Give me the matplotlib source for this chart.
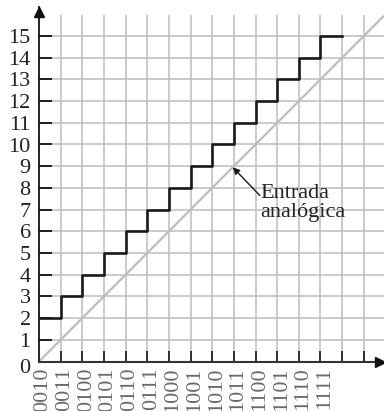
import matplotlib.pyplot as plt
from matplotlib.transforms import ScaledTranslation

plt.rcParams["font.family"] = ["Liberation Serif", "DejaVu Serif"]

# digital codes on the x axis and the quantised output levels
codes = ["0010", "0011", "0100", "0101", "0110", "0111", "1000",
         "1001", "1010", "1011", "1100", "1101", "1110", "1111"]
levels = [2, 3, 4, 5, 6, 7, 8, 9, 10, 11, 12, 13, 14, 15]
y_ticks = list(range(16))
x_grid = list(range(1, 16))
y_grid = list(range(1, 16))
analog_end = 15.9
arrow_point = 8.95

GRID = "#bdbdbd"

fig = plt.figure(figsize=(3.84, 4.11), dpi=100)
ax = fig.add_axes([39 / 384, 49.5 / 411, 345 / 384, 354.5 / 411])
xmax = 345 / 21.65
ymax = 354.5 / 21.7
ax.set_xlim(0, xmax)
ax.set_ylim(0, ymax)

# grid
ax.vlines(x_grid, 0, 15.95, color=GRID, lw=1.1, zorder=1)
ax.hlines(y_grid, 0, xmax, color=GRID, lw=1.1, zorder=1)

# analog input (diagonal)
ax.plot([0, analog_end], [0, analog_end], color="#bdbdbd", lw=1.6, zorder=2)

# staircase output
xs = list(range(len(levels))) + [len(levels)]
ys = levels + [levels[-1]]
ax.step(xs, ys, where="post", color="#1a1a1a", lw=1.9, zorder=3)

# axes
for s in ["top", "right"]:
    ax.spines[s].set_visible(False)
ax.spines["left"].set_color("#111111")
ax.spines["left"].set_linewidth(1.3)
ax.spines["bottom"].set_color("#333333")
ax.spines["bottom"].set_linewidth(1.5)
ax.plot(0, ymax - 0.25, marker="^", ms=7, color="#111111", clip_on=False, zorder=5)
ax.plot(xmax - 0.2, 0, marker=">", ms=7, color="#111111", clip_on=False, zorder=5)

ax.set_yticks(y_ticks)
ax.set_yticklabels([str(v) for v in y_ticks])
ax.tick_params(axis="y", direction="in", length=9.5, width=1.3, color="#111111",
               pad=6, labelsize=16, labelcolor="#222222")
# the "0" sits a little below the axis in the original
zero_lbl = ax.get_yticklabels()[0]
zero_lbl.set_transform(zero_lbl.get_transform()
                       + ScaledTranslation(0, -4 / 100, fig.dpi_scale_trans))

ax.xaxis.remove_overlapping_locs = False
ax.set_xticks(x_grid)
ax.set_xticklabels([])
ax.tick_params(axis="x", which="major", direction="in", length=8, width=1.3,
               color="#222222")
ax.set_xticks(range(len(codes)), minor=True)
ax.set_xticklabels(codes, minor=True, rotation=90, va="top", ha="center")
ax.tick_params(axis="x", which="minor", direction="in", length=0, pad=4,
               labelsize=16, labelcolor="#6a6a6a")
for lbl in ax.get_xticklabels(minor=True):
    lbl.set_transform(lbl.get_transform()
                      + ScaledTranslation(4 / 100, 0, fig.dpi_scale_trans))

# label for analog input
ax.annotate("", xy=(arrow_point, arrow_point), xytext=(10.2, 7.65),
            arrowprops=dict(arrowstyle="-|>", color="#1a1a1a", lw=1.0,
                            mutation_scale=10, shrinkA=0, shrinkB=0))
ax.text(10.22, 8.2, "Entrada\nanalógica", ha="left", va="top",
        fontsize=16, color="#222222", linespacing=1.0, zorder=6)

fig.savefig("out.png", dpi=100)
